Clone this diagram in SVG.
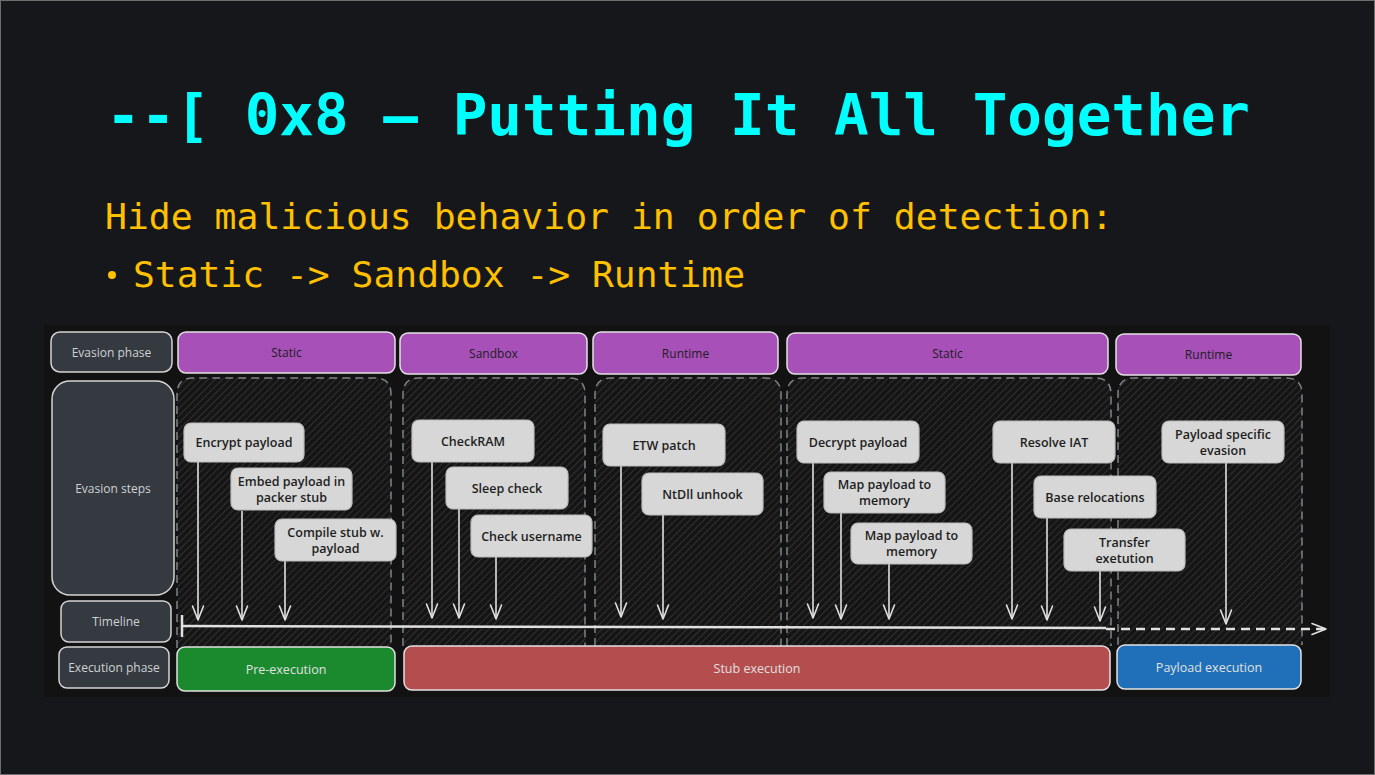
<svg xmlns="http://www.w3.org/2000/svg" width="1375" height="775" viewBox="0 0 1375 775">
<defs>
<style>
.title{font-family:"DejaVu Sans Mono","Liberation Mono",monospace;font-weight:bold;fill:#00ffff}
.sub{font-family:"DejaVu Sans Mono","Liberation Mono",monospace;fill:#ffc000}
.lbl{fill:#343a40;stroke:#d4d4d4;stroke-width:1.5}
.lblt{font-family:"Open Sans","Noto Sans",sans-serif;font-size:12px;fill:#cfd2d6;text-anchor:middle;dominant-baseline:central}
.hdr{fill:#a650b8;stroke:#e2e2e2;stroke-width:1.5}
.hdrt{font-family:"Open Sans","Noto Sans",sans-serif;font-size:12px;fill:#1e1e1e;text-anchor:middle;dominant-baseline:central}
.cont{fill:url(#hatch)}
.contb{fill:none;stroke:#7d848c;stroke-width:1.5;stroke-dasharray:8 5}
.step{fill:#d7d7d7;stroke:#bcbcbc;stroke-width:1.2}
.stept{font-family:"Open Sans","Noto Sans",sans-serif;font-size:12.5px;font-weight:600;fill:#1e1e1e;text-anchor:middle;dominant-baseline:central}
.exec{stroke:#e2e2e2;stroke-width:1.5}
.exect{font-family:"Open Sans","Noto Sans",sans-serif;font-size:12.5px;fill:#e0e0e0;text-anchor:middle;dominant-baseline:central}
.arr{fill:none;stroke:#e0e0e0;stroke-width:1.6;marker-end:url(#ah)}
.tl{fill:none;stroke:#e0e0e0;stroke-width:2.5}
</style>
<pattern id="hatch" patternUnits="userSpaceOnUse" width="5" height="5" patternTransform="rotate(45)">
<rect width="5" height="5" fill="#151515"/>
<line x1="0" y1="0" x2="0" y2="5" stroke="#444444" stroke-width="1.2"/>
</pattern>
<marker id="ah" viewBox="-15 -7 17 14" refX="0" refY="0" markerWidth="17" markerHeight="14" markerUnits="userSpaceOnUse" orient="auto">
<path d="M-14,-5.5 L0,0 L-14,5.5" fill="none" stroke="#e0e0e0" stroke-width="1.6" stroke-linecap="round" stroke-linejoin="round"/>
</marker>
</defs>
<rect x="0" y="0" width="1375" height="775" fill="#16171a"/>
<rect x="0.5" y="0.5" width="1374" height="774" fill="none" stroke="#6e6e6e" stroke-width="1"/>
<text class="title" x="106" y="135" font-size="57" textLength="1144" lengthAdjust="spacingAndGlyphs">--[ 0x8 – Putting It All Together</text>
<text class="sub" x="105" y="229" font-size="35" textLength="1008" lengthAdjust="spacingAndGlyphs">Hide malicious behavior in order of detection:</text>
<circle cx="112" cy="275" r="4" fill="#ffc000"/>
<text class="sub" x="133" y="287" font-size="35" textLength="612" lengthAdjust="spacingAndGlyphs">Static -&gt; Sandbox -&gt; Runtime</text>
<rect x="44" y="325" width="1286" height="372" fill="#121212"/>
<g id="containers">
<path class="cont" d="M177,648 V394 Q177,378 193,378 H375 Q391,378 391,394 V648 Z"/>
<path class="contb" d="M177,648 V394 Q177,378 193,378 H375 Q391,378 391,394 V648"/>
<path class="cont" d="M403,646 V394 Q403,378 419,378 H569 Q585,378 585,394 V646 Z"/>
<path class="contb" d="M403,646 V394 Q403,378 419,378 H569 Q585,378 585,394 V646"/>
<path class="cont" d="M595,646 V394 Q595,378 611,378 H765 Q781,378 781,394 V646 Z"/>
<path class="contb" d="M595,646 V394 Q595,378 611,378 H765 Q781,378 781,394 V646"/>
<path class="cont" d="M787,646 V394 Q787,378 803,378 H1095 Q1111,378 1111,394 V646 Z"/>
<path class="contb" d="M787,646 V394 Q787,378 803,378 H1095 Q1111,378 1111,394 V646"/>
<path class="cont" d="M1118,645 V394 Q1118,378 1134,378 H1286 Q1302,378 1302,394 V645 Z"/>
<path class="contb" d="M1118,645 V394 Q1118,378 1134,378 H1286 Q1302,378 1302,394 V645"/>
</g>
<g id="label-evasion-phase"><rect class="lbl" x="51" y="332" width="121" height="40" rx="9"/><text class="lblt" x="111.5" y="352">Evasion phase</text></g>
<g id="label-evasion-steps"><rect class="lbl" x="52" y="381" width="122" height="214" rx="18"/><text class="lblt" x="113" y="488">Evasion steps</text></g>
<g id="label-timeline"><rect class="lbl" x="61" y="601" width="110" height="41" rx="8"/><text class="lblt" x="116" y="621.5">Timeline</text></g>
<g id="label-execution-phase"><rect class="lbl" x="59" y="647" width="110" height="41" rx="8"/><text class="lblt" x="114" y="667.5">Execution phase</text></g>
<g id="phase-static-1"><rect class="hdr" x="178" y="332" width="217" height="41" rx="8"/><text class="hdrt" x="286.5" y="352.5">Static</text></g>
<g id="phase-sandbox"><rect class="hdr" x="400" y="333" width="187" height="41" rx="8"/><text class="hdrt" x="493.5" y="353.5">Sandbox</text></g>
<g id="phase-runtime-1"><rect class="hdr" x="593" y="332" width="185" height="42" rx="8"/><text class="hdrt" x="685.5" y="353">Runtime</text></g>
<g id="phase-static-2"><rect class="hdr" x="787" y="333" width="321" height="41" rx="8"/><text class="hdrt" x="947.5" y="353.5">Static</text></g>
<g id="phase-runtime-2"><rect class="hdr" x="1116" y="334" width="185" height="41" rx="8"/><text class="hdrt" x="1208.5" y="354.5">Runtime</text></g>
<g id="connectors">
<path class="tl" d="M182,615 V637"/>
<path class="tl" d="M182,626 L1106,628"/>
<path class="tl" d="M1106,629 H1326" stroke-dasharray="9 6" marker-end="url(#ah)"/>
<path class="arr" d="M198,462 V620"/>
<path class="arr" d="M242,511 V620"/>
<path class="arr" d="M285,561 V620"/>
<path class="arr" d="M432,462 V618"/>
<path class="arr" d="M459,509 V618"/>
<path class="arr" d="M496,557 V619"/>
<path class="arr" d="M621,466 V617"/>
<path class="arr" d="M663,515 V619"/>
<path class="arr" d="M813,463 V618"/>
<path class="arr" d="M841,513 V619"/>
<path class="arr" d="M889,564 V619"/>
<path class="arr" d="M1012,463 V619"/>
<path class="arr" d="M1047,518 V620"/>
<path class="arr" d="M1100,571 V621"/>
<path class="arr" d="M1226,463 V624"/>
</g>
<g id="step-encrypt"><rect class="step" x="184" y="423" width="120" height="39" rx="7"/><text class="stept" x="244" y="442">Encrypt payload</text></g>
<g id="step-embed"><rect class="step" x="231" y="468" width="121" height="42" rx="7"/><text class="stept" x="291.5" y="481">Embed payload in</text><text class="stept" x="291.5" y="497">packer stub</text></g>
<g id="step-compile"><rect class="step" x="275" y="519" width="121" height="42" rx="7"/><text class="stept" x="335.5" y="532">Compile stub w.</text><text class="stept" x="335.5" y="548">payload</text></g>
<g id="step-checkram"><rect class="step" x="412" y="420" width="122" height="42" rx="7"/><text class="stept" x="473" y="441">CheckRAM</text></g>
<g id="step-sleep"><rect class="step" x="446" y="467" width="122" height="42" rx="7"/><text class="stept" x="507" y="488">Sleep check</text></g>
<g id="step-username"><rect class="step" x="471" y="515" width="121" height="42" rx="7"/><text class="stept" x="531.5" y="536">Check username</text></g>
<g id="step-etw"><rect class="step" x="603" y="424" width="122" height="42" rx="7"/><text class="stept" x="664" y="445">ETW patch</text></g>
<g id="step-ntdll"><rect class="step" x="642" y="473" width="121" height="42" rx="7"/><text class="stept" x="702.5" y="494">NtDll unhook</text></g>
<g id="step-decrypt"><rect class="step" x="797" y="421" width="122" height="42" rx="7"/><text class="stept" x="858" y="442">Decrypt payload</text></g>
<g id="step-map1"><rect class="step" x="824" y="472" width="121" height="41" rx="7"/><text class="stept" x="884.5" y="484.5">Map payload to</text><text class="stept" x="884.5" y="500.5">memory</text></g>
<g id="step-map2"><rect class="step" x="851" y="523" width="121" height="41" rx="7"/><text class="stept" x="911.5" y="535.5">Map payload to</text><text class="stept" x="911.5" y="551.5">memory</text></g>
<g id="step-iat"><rect class="step" x="993" y="421" width="122" height="42" rx="7"/><text class="stept" x="1054" y="442">Resolve IAT</text></g>
<g id="step-reloc"><rect class="step" x="1034" y="476" width="122" height="42" rx="7"/><text class="stept" x="1095" y="497">Base relocations</text></g>
<g id="step-transfer"><rect class="step" x="1064" y="529" width="121" height="42" rx="7"/><text class="stept" x="1124.5" y="542">Transfer</text><text class="stept" x="1124.5" y="558">exetution</text></g>
<g id="step-payload-evasion"><rect class="step" x="1162" y="421" width="122" height="42" rx="7"/><text class="stept" x="1223" y="434">Payload specific</text><text class="stept" x="1223" y="450">evasion</text></g>
<g id="exec-pre"><rect class="exec" x="177" y="647" width="218" height="44" rx="8" fill="#1b8a2e"/><text class="exect" x="286" y="669">Pre-execution</text></g>
<g id="exec-stub"><rect class="exec" x="404" y="646" width="706" height="44" rx="8" fill="#b44d4d"/><text class="exect" x="757" y="668">Stub execution</text></g>
<g id="exec-payload"><rect class="exec" x="1117" y="645" width="184" height="44" rx="8" fill="#1f70b8"/><text class="exect" x="1209" y="667">Payload execution</text></g>
</svg>
